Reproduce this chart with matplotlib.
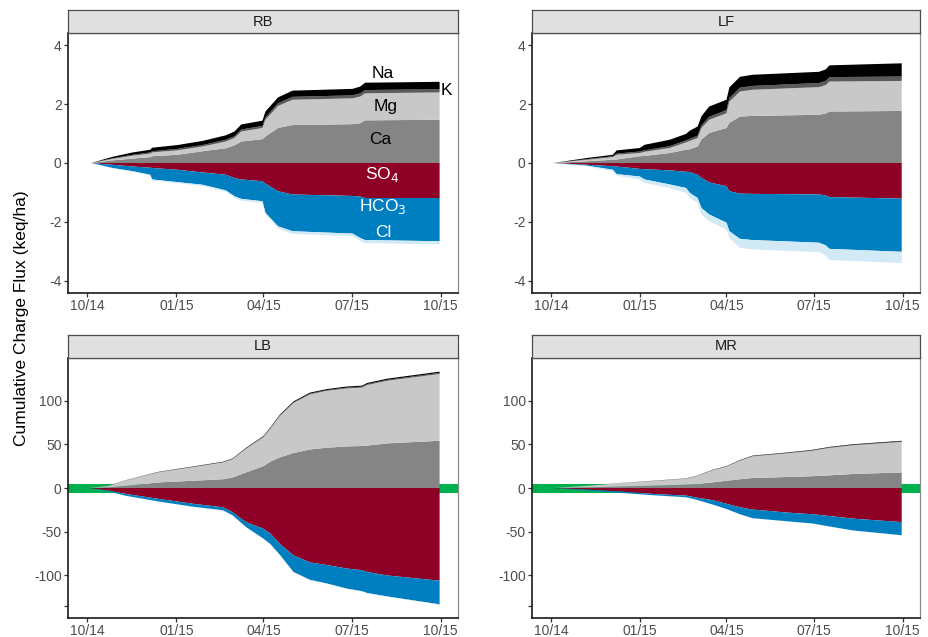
import matplotlib
matplotlib.use("Agg")
import matplotlib.pyplot as plt
import numpy as np

plt.rcParams['font.family'] = ['Liberation Sans', 'DejaVu Sans']

# days since 2014-10-01, cumulative charge flux per ion (keq/ha)
sites = ['RB', 'LF', 'LB', 'MR']

rb_days = [4, 26, 47, 65, 67, 93, 119, 143, 152, 159, 181, 184, 197, 212, 274, 282, 287, 364]
rb_ca = [0, 0.09, 0.15, 0.20, 0.23, 0.28, 0.40, 0.50, 0.60, 0.73, 0.81, 0.90, 1.19, 1.29, 1.32, 1.35, 1.45, 1.47]
rb_mg = [0, 0.05, 0.10, 0.12, 0.13, 0.15, 0.16, 0.23, 0.25, 0.34, 0.38, 0.57, 0.75, 0.86, 0.88, 0.91, 0.92, 0.93]
rb_k = [0, 0.02, 0.03, 0.04, 0.04, 0.05, 0.05, 0.06, 0.06, 0.07, 0.07, 0.08, 0.09, 0.10, 0.10, 0.11, 0.11, 0.11]
rb_na = [0, 0.05, 0.08, 0.09, 0.12, 0.13, 0.14, 0.15, 0.16, 0.17, 0.18, 0.20, 0.20, 0.21, 0.22, 0.23, 0.25, 0.25]
rb_so4 = [0, 0.06, 0.12, 0.16, 0.17, 0.23, 0.32, 0.40, 0.51, 0.56, 0.62, 0.70, 0.96, 1.07, 1.12, 1.14, 1.19, 1.19]
rb_hco3 = [0, 0.11, 0.16, 0.24, 0.39, 0.42, 0.42, 0.53, 0.62, 0.66, 0.68, 0.99, 1.19, 1.25, 1.28, 1.41, 1.43, 1.47]
rb_cl = [0, 0.01, 0.02, 0.03, 0.03, 0.04, 0.04, 0.05, 0.05, 0.06, 0.06, 0.07, 0.08, 0.09, 0.09, 0.10, 0.10, 0.11]

lf_days = [2, 37, 64, 68, 92, 97, 123, 140, 144, 152, 156, 164, 182, 185, 196, 209, 278, 285, 289, 364]
lf_ca = [0, 0.06, 0.11, 0.12, 0.23, 0.24, 0.34, 0.45, 0.47, 0.56, 0.80, 1.02, 1.19, 1.36, 1.58, 1.60, 1.64, 1.68, 1.75, 1.77]
lf_mg = [0, 0.05, 0.09, 0.16, 0.11, 0.14, 0.17, 0.25, 0.28, 0.29, 0.39, 0.45, 0.50, 0.73, 0.85, 0.89, 0.94, 0.97, 1.02, 1.02]
lf_k = [0, 0.02, 0.03, 0.04, 0.05, 0.05, 0.06, 0.07, 0.07, 0.08, 0.09, 0.10, 0.11, 0.12, 0.13, 0.13, 0.14, 0.14, 0.15, 0.15]
lf_na = [0, 0.04, 0.05, 0.11, 0.12, 0.19, 0.22, 0.22, 0.28, 0.31, 0.31, 0.35, 0.35, 0.36, 0.37, 0.38, 0.38, 0.39, 0.40, 0.45]
lf_so4 = [0, 0.06, 0.11, 0.12, 0.20, 0.21, 0.25, 0.30, 0.31, 0.40, 0.50, 0.66, 0.79, 0.96, 1.04, 1.05, 1.07, 1.10, 1.16, 1.21]
lf_hco3 = [0, 0.03, 0.12, 0.26, 0.26, 0.35, 0.48, 0.55, 0.71, 0.79, 1.03, 1.09, 1.24, 1.36, 1.54, 1.57, 1.64, 1.70, 1.76, 1.81]
lf_cl = [0, 0.02, 0.05, 0.05, 0.10, 0.12, 0.12, 0.17, 0.17, 0.17, 0.22, 0.23, 0.23, 0.24, 0.30, 0.32, 0.32, 0.35, 0.38, 0.38]

lb_days = [2, 22, 40, 74, 109, 140, 150, 164, 182, 189, 199, 213, 230, 247, 268, 284, 289, 310, 364]
lb_ca = [0, 0.8, 2.5, 6.4, 8.3, 10, 12, 17.8, 25, 30, 35, 40, 44, 46, 47.5, 48, 48.5, 51, 54]
lb_mg = [0, 1.75, 6.2, 11.7, 15.6, 19.2, 20.8, 27.1, 33.2, 37.6, 47.4, 57.2, 63, 65, 66.3, 66.8, 69.2, 71.6, 76.4]
lb_k = [0, 0.05, 0.1, 0.2, 0.3, 0.3, 0.4, 0.5, 0.6, 0.6, 0.7, 0.8, 0.9, 0.9, 1.0, 1.0, 1.0, 1.1, 1.2]
lb_na = [0, 0.1, 0.2, 0.3, 0.4, 0.5, 0.5, 0.6, 0.7, 0.8, 0.9, 1.0, 1.1, 1.1, 1.2, 1.2, 1.3, 1.3, 1.4]
lb_so4 = [0, 3, 6.8, 12.5, 18, 22, 27.6, 39, 46.6, 52, 64, 77, 85, 88, 92, 94, 96, 100, 106]
lb_hco3 = [0, 1, 2.2, 3, 3.4, 3.5, 3.6, 5.7, 11.4, 12, 12.5, 19, 20, 21, 23, 24, 24, 24, 27]
lb_cl = [0, 0.05, 0.1, 0.1, 0.15, 0.2, 0.2, 0.2, 0.25, 0.25, 0.3, 0.3, 0.3, 0.35, 0.35, 0.35, 0.4, 0.4, 0.4]

mr_days = [2, 37, 71, 106, 140, 151, 168, 182, 196, 209, 244, 271, 289, 313, 364]
mr_ca = [0, 0.8, 1.7, 2.7, 3.8, 4.5, 6.5, 8.3, 10, 11.4, 12.5, 13.5, 14.5, 16, 17.8]
mr_mg = [0, 1.8, 3.8, 5.3, 6.8, 9.05, 13.95, 16.05, 21.25, 24.75, 27.05, 29.05, 31.4, 32.8, 34.9]
mr_k = [0, 0.05, 0.1, 0.15, 0.2, 0.2, 0.25, 0.3, 0.35, 0.4, 0.45, 0.5, 0.5, 0.55, 0.6]
mr_na = [0, 0.05, 0.1, 0.15, 0.2, 0.25, 0.3, 0.35, 0.4, 0.45, 0.5, 0.55, 0.6, 0.65, 0.7]
mr_so4 = [0, 1.9, 4, 6.8, 8.7, 11, 14, 18, 22, 24.6, 28, 30, 32, 35, 39]
mr_hco3 = [0, 1.1, 1.5, 1.5, 1.9, 2.5, 5, 6, 8, 9.9, 10, 10.5, 12, 13.5, 15]
mr_cl = [0, 0.02, 0.03, 0.04, 0.05, 0.05, 0.06, 0.07, 0.08, 0.08, 0.09, 0.1, 0.1, 0.1, 0.1]

tick_days = [0, 92, 182, 273, 365]
tick_labels = ['10/14', '01/15', '04/15', '07/15', '10/15']

cation_colors = ['#858585', '#c8c8c8', '#5a5a5a', '#000000']
anion_colors = ['#8e0026', '#007fc0', '#d2e9f6']

data = {
    'RB': (rb_days, [rb_ca, rb_mg, rb_k, rb_na], [rb_so4, rb_hco3, rb_cl]),
    'LF': (lf_days, [lf_ca, lf_mg, lf_k, lf_na], [lf_so4, lf_hco3, lf_cl]),
    'LB': (lb_days, [lb_ca, lb_mg, lb_k, lb_na], [lb_so4, lb_hco3, lb_cl]),
    'MR': (mr_days, [mr_ca, mr_mg, mr_k, mr_na], [mr_so4, mr_hco3, mr_cl]),
}

W, H = 929, 637
fig = plt.figure(figsize=(W / 100, H / 100), dpi=100)

# panel boxes in pixels: (left, top, right, bottom)
boxes = {
    'RB': (68, 33, 458, 293),
    'LF': (532, 33, 920, 293),
    'LB': (68, 358, 458, 618),
    'MR': (532, 358, 920, 618),
}
strip_h = 23

for site in sites:
    l, t, r, b = boxes[site]
    ax = fig.add_axes([l / W, 1 - b / H, (r - l) / W, (b - t) / H])
    days, cations, anions = data[site]
    days = np.array(days)

    bottom_row = site in ('LB', 'MR')
    if bottom_row:
        ax.axhline(0, color='#00b04f', lw=6.5, zorder=1)

    ax.stackplot(days, *[np.array(c) for c in cations], colors=cation_colors,
                 linewidth=0, zorder=2)
    ax.stackplot(days, *[-np.array(a) for a in anions], colors=anion_colors,
                 linewidth=0, zorder=2)

    ax.set_xlim(-20, 383)
    ax.set_xticks(tick_days)
    ax.set_xticklabels(tick_labels)
    if bottom_row:
        ax.set_ylim(-148.6, 148.6)
        ax.set_yticks([100, 50, 0, -50, -100, -135])
        ax.set_yticklabels(['100', '50', '0', '-50', '-100', ''])
    else:
        ax.set_ylim(-4.42, 4.42)
        ax.set_yticks([4, 2, 0, -2, -4])
        ax.set_yticklabels(['4', '2', '0', '-2', '-4'])

    ax.tick_params(labelsize=10, labelcolor='#4d4d4d', color='#333333',
                   length=3, width=0.9, pad=1.5)
    for side in ('left', 'bottom'):
        ax.spines[side].set_color('#1a1a1a')
        ax.spines[side].set_linewidth(1.2)
    for side in ('top', 'right'):
        ax.spines[side].set_color('#8a8a8a')
        ax.spines[side].set_linewidth(0.9)

    sax = fig.add_axes([l / W, 1 - t / H, (r - l) / W, strip_h / H])
    sax.set_facecolor('#dfe0df')
    sax.set_xticks([])
    sax.set_yticks([])
    for sp in sax.spines.values():
        sp.set_color('#4d4d4d')
        sp.set_linewidth(0.9)
    sax.text(0.5, 0.5, site, ha='center', va='center', fontsize=10.5, color='#1a1a1a',
             transform=sax.transAxes)

    if site == 'RB':
        lab = dict(ha='center', va='center', fontsize=12.5)
        ax.text(305, 3.06, 'Na', color='black', **lab)
        ax.text(371, 2.48, 'K', color='black', **lab)
        ax.text(308, 1.91, 'Mg', color='black', **lab)
        ax.text(303, 0.79, 'Ca', color='black', **lab)
        ax.text(305, -0.40, 'SO$_4$', color='white', **lab)
        ax.text(305, -1.48, 'HCO$_3$', color='white', **lab)
        ax.text(306, -2.36, 'Cl', color='white', **lab)

fig.text(22 / W, 1 - 318 / H, 'Cumulative Charge Flux (keq/ha)', rotation=90,
         ha='center', va='center', fontsize=12.5, color='black')

fig.savefig('out.png', dpi=100)
